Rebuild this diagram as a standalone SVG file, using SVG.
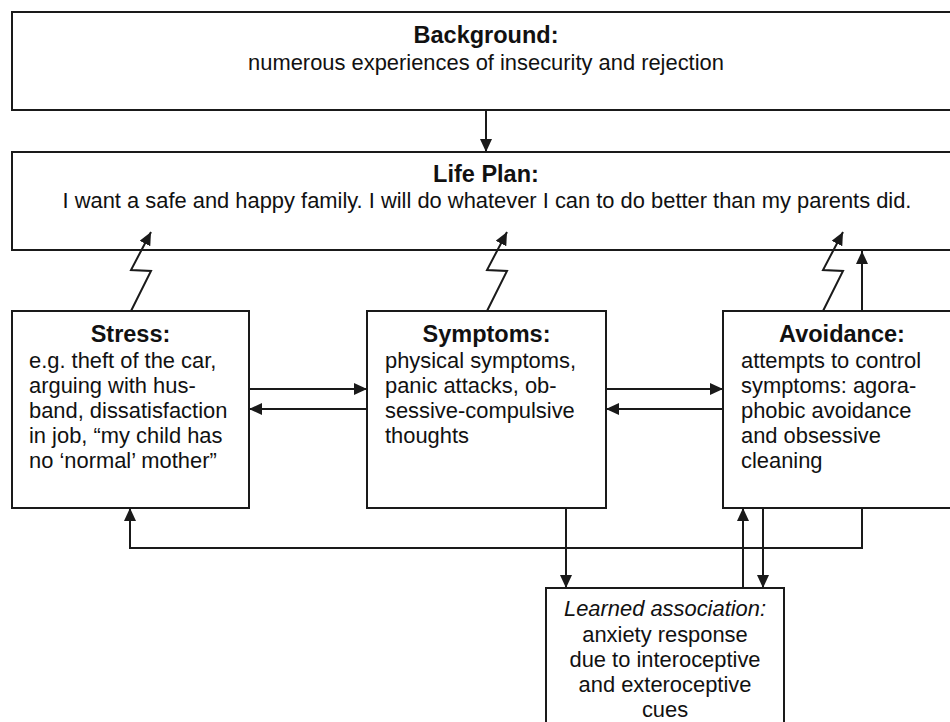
<svg xmlns="http://www.w3.org/2000/svg" width="950" height="722" viewBox="0 0 950 722">
<defs>
<marker id="ah" markerUnits="userSpaceOnUse" markerWidth="14" markerHeight="12" refX="13" refY="6" orient="auto">
<path d="M0,0 L13,6 L0,12 z" fill="#1a1a1a"/>
</marker>
</defs>
<style>
.box{fill:#fff;stroke:#1a1a1a;stroke-width:2}
.ln{fill:none;stroke:#1a1a1a;stroke-width:2}
.t{font-family:"Liberation Sans",Arial,Helvetica,sans-serif;font-size:23.5px;font-weight:bold;fill:#111;text-anchor:middle}
.b{font-family:"Liberation Sans",Arial,Helvetica,sans-serif;font-size:21.9px;fill:#111}
.c{text-anchor:middle}
.i{font-style:italic}
</style>
<rect width="950" height="722" fill="#fff"/>
<g id="background">
<rect class="box" x="12" y="12" width="950" height="98"/>
<text class="t" x="486" y="43">Background:</text>
<text class="b c" x="486" y="70">numerous experiences of insecurity and rejection</text>
</g>
<g id="lifeplan">
<rect class="box" x="12" y="152" width="950" height="98"/>
<text class="t" x="486" y="182">Life Plan:</text>
<text class="b c" x="487" y="208">I want a safe and happy family. I will do whatever I can to do better than my parents did.</text>
</g>
<g id="stress">
<rect class="box" x="12" y="311" width="237" height="197"/>
<text class="t" x="130.5" y="342">Stress:</text>
<text class="b" x="29" y="368">e.g. theft of the car,</text>
<text class="b" x="29" y="393">arguing with hus-</text>
<text class="b" x="29" y="418">band, dissatisfaction</text>
<text class="b" x="29" y="443">in job, “my child has</text>
<text class="b" x="29" y="468">no ‘normal’ mother”</text>
</g>
<g id="symptoms">
<rect class="box" x="367" y="311" width="239" height="197"/>
<text class="t" x="486.5" y="342">Symptoms:</text>
<text class="b" x="385" y="368">physical symptoms,</text>
<text class="b" x="385" y="393">panic attacks, ob-</text>
<text class="b" x="385" y="418">sessive-compulsive</text>
<text class="b" x="385" y="443">thoughts</text>
</g>
<g id="avoidance">
<rect class="box" x="723" y="311" width="240" height="197"/>
<text class="t" x="842" y="342">Avoidance:</text>
<text class="b" x="741" y="368">attempts to control</text>
<text class="b" x="741" y="393">symptoms: agora-</text>
<text class="b" x="741" y="418">phobic avoidance</text>
<text class="b" x="741" y="443">and obsessive</text>
<text class="b" x="741" y="468">cleaning</text>
</g>
<g id="learned">
<rect class="box" x="546" y="588" width="238" height="150"/>
<text class="b c i" x="665" y="616">Learned association:</text>
<text class="b c" x="665" y="642">anxiety response</text>
<text class="b c" x="665" y="667">due to interoceptive</text>
<text class="b c" x="665" y="692">and exteroceptive</text>
<text class="b c" x="665" y="717">cues</text>
</g>
<g id="connectors">
<path class="ln" marker-end="url(#ah)" d="M486,110 L486,152"/>
<path class="ln" marker-end="url(#ah)" d="M131,311 L151,271 L131,270 L151,232"/>
<path class="ln" marker-end="url(#ah)" d="M487,311 L507,271 L487,270 L507,232"/>
<path class="ln" marker-end="url(#ah)" d="M823,311 L843,271 L823,270 L843,232"/>
<path class="ln" marker-end="url(#ah)" d="M862,311 L862,251"/>
<path class="ln" marker-end="url(#ah)" d="M249,389 L367,389"/>
<path class="ln" marker-end="url(#ah)" d="M367,409 L249,409"/>
<path class="ln" marker-end="url(#ah)" d="M606,389 L723,389"/>
<path class="ln" marker-end="url(#ah)" d="M723,409 L606,409"/>
<path class="ln" marker-end="url(#ah)" d="M862,508 L862,548 L130,548 L130,508"/>
<path class="ln" marker-end="url(#ah)" d="M566,508 L566,588"/>
<path class="ln" marker-end="url(#ah)" d="M743,588 L743,508"/>
<path class="ln" marker-end="url(#ah)" d="M763,508 L763,588"/>
</g>
</svg>
